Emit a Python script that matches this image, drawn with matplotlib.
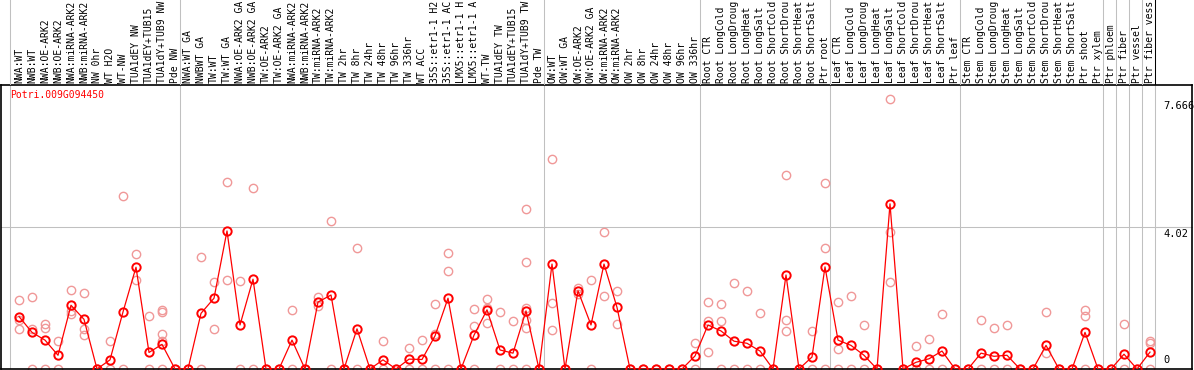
import numpy as np
import matplotlib
matplotlib.use('Agg')
import matplotlib.pyplot as plt
import matplotlib.transforms as mtransforms

gene = 'Potri.009G094450'

labels = ['NWA:WT', 'NWB:WT', 'NWA:OE-ARK2', 'NWB:OE-ARK2', 'NWA:miRNA-ARK2', 'NWB:miRNA-ARK2',
          'NW 0hr', 'WT H2O', 'WT-NW', 'TUA1dEY NW', 'TUA1dEY+TUB15', 'TUA1dY+TUB9 NW', 'Pde NW',
          'NWA:WT GA', 'NWBWT GA', 'TW:WT', 'TW:WT GA', 'NWA:OE-ARK2 GA', 'NWB:OE-ARK2 GA',
          'TW:OE-ARK2', 'TW:OE-ARK2 GA', 'NWA:miRNA-ARK2', 'NWB:miRNA-ARK2', 'TW:miRNA-ARK2',
          'TW:miRNA-ARK2', 'TW 2hr', 'TW 8hr', 'TW 24hr', 'TW 48hr', 'TW 96hr', 'TW 336hr', 'WT ACC',
          '35S::etr1-1 H2', '35S::etr1-1 AC', 'LMX5::etr1-1 H', 'LMX5::etr1-1 A', 'WT-TW', 'TUA1dEY TW',
          'TUA1dEY+TUB15', 'TUA1dY+TUB9 TW', 'Pde TW',
          'OW:WT', 'OW:WT GA', 'OW:OE-ARK2', 'OW:OE-ARK2 GA', 'OW:miRNA-ARK2', 'OW:miRNA-ARK2',
          'OW 2hr', 'OW 8hr', 'OW 24hr', 'OW 48hr', 'OW 96hr', 'OW 336hr',
          'Root CTR', 'Root LongCold', 'Root LongDroug', 'Root LongHeat', 'Root LongSalt',
          'Root ShortCold', 'Root ShortDrou', 'Root ShortHeat', 'Root ShortSalt', 'Ptr root',
          'Leaf CTR', 'Leaf LongCold', 'Leaf LongDroug', 'Leaf LongHeat', 'Leaf LongSalt',
          'Leaf ShortCold', 'Leaf ShortDrou', 'Leaf ShortHeat', 'Leaf ShortSalt', 'Ptr leaf',
          'Stem CTR', 'Stem LongCold', 'Stem LongDroug', 'Stem LongHeat', 'Stem LongSalt',
          'Stem ShortCold', 'Stem ShortDrou', 'Stem ShortHeat', 'Stem ShortSalt', 'Ptr shoot',
          'Ptr xylem', 'Ptr phloem', 'Ptr fiber', 'Ptr vessel', 'Ptr fiber vess']

group_sizes = [13, 28, 12, 10, 10, 11, 1, 1, 1, 1]

means = [1.49, 1.04, 0.82, 0.39, 1.81, 1.41, 0, 0.26, 1.62, 2.89, 0.47, 0.70, 0,
         0, 1.58, 2.01, 3.92, 1.25, 2.55, 0, 0, 0.82, 0, 1.90, 2.10, 0, 1.14, 0, 0.26, 0,
         0.28, 0.27, 0.94, 2.01, 0, 0.96, 1.68, 0.54, 0.45, 1.65, 0,
         2.98, 0, 2.22, 1.25, 2.98, 1.75, 0, 0, 0, 0, 0, 0.37,
         1.25, 1.08, 0.79, 0.73, 0.51, 0, 2.67, 0, 0.34, 2.90,
         0.82, 0.67, 0.39, 0, 4.69, 0, 0.19, 0.29, 0.51, 0,
         0, 0.45, 0.36, 0.39, 0, 0, 0.67, 0, 0, 1.04, 0,
         0, 0.42, 0, 0.48]

reps = [[1.96, 1.39, 1.13], [2.04, 1.13, 0], [1.28, 1.15, 0], [0.79, 0], [2.24, 1.66, 1.56],
        [2.16, 1.13, 0.96], [0, 0], [0.80, 0], [4.91, 0], [3.27, 2.52], [1.50, 0],
        [1.68, 1.62, 0.99, 0.80, 0], [0],
        [0], [3.17, 0], [2.46, 1.13], [5.30, 2.52], [2.50, 0], [5.13, 0], [0], [0], [1.68, 0], [0],
        [2.04, 1.79], [4.20, 0], [0], [3.43, 0], [0], [0.80, 0], [0], [0.60, 0], [0.82, 0],
        [1.85, 0.98, 0], [3.29, 2.77, 0], [0], [1.69, 1.21, 0], [1.98, 1.74, 1.31], [1.61, 0],
        [1.36, 0], [4.55, 3.03, 1.72, 1.39, 1.15, 0], [0],
        [5.96, 1.87, 1.11], [0], [2.30, 2.13], [2.52, 0], [3.88, 2.07], [2.22, 1.28],
        [0], [0], [0], [0], [0], [0.73, 0],
        [1.89, 1.37, 0.48], [1.85, 1.35, 0], [2.44, 0], [2.22, 0], [1.59, 0], [0],
        [5.50, 1.39, 1.08], [0], [1.08, 0], [5.27, 3.44, 0],
        [1.89, 0.57, 0], [2.06, 0], [1.24, 0], [0], [7.666, 3.90, 2.46], [0], [0.64, 0],
        [0.84, 0], [1.56, 0], [0],
        [0], [1.39, 0], [1.16, 0], [1.24, 0], [0], [0], [1.62, 0.45], [0], [0],
        [1.68, 1.51, 0], [0],
        [0], [1.28, 0], [0], [0.79, 0.73, 0]]

ymax_label = 7.666
grid_value = 4.02

plt.rcParams['font.family'] = 'DejaVu Sans Mono'

W, H = 1194, 370
fig = plt.figure(figsize=(W / 100, H / 100), dpi=100)
fig.patch.set_facecolor('white')

# pixel layout
x0, x1 = 1, 1192
ytop, ybot = 85, 369
col0, step = 19, 13
xlim = ((x0 - col0) / step, (x1 - col0) / step)

ax = fig.add_axes([x0 / W, (H - ybot) / H, (x1 - x0) / W, (ybot - ytop) / H])
hd = fig.add_axes([x0 / W, (H - ytop) / H, (x1 - x0) / W, ytop / H])

ymax = ymax_label * (ybot - ytop) / (ybot - 99)
ax.set_xlim(*xlim)
ax.set_ylim(0, ymax)
ax.set_xticks([])
ax.set_yticks([])
for s in ax.spines.values():
    s.set_color('black')
    s.set_linewidth(1.2)

hd.set_xlim(*xlim)
hd.set_ylim(0, ytop)
hd.axis('off')

gray = '#c0c0c0'
lw = 0.75

# group separators
seps = [-0.67]
n = 0
for g in group_sizes:
    n += g
    seps.append(n - 1 + 0.41)
for i, sx in enumerate(seps):
    ax.axvline(sx, color=gray, lw=lw, zorder=1)
    hd.axvline(sx, color='black' if i == len(seps) - 1 else gray, lw=lw)

ax.axhline(grid_value, color=gray, lw=lw, zorder=1)
ax.plot([xlim[1] - 2.8, xlim[1]], [grid_value, grid_value], color=gray, lw=lw, clip_on=False)

xs = np.arange(len(labels))

# replicates
for i in range(len(reps)):
    ax.plot([xs[i]] * len(reps[i]), reps[i], 'o', ms=6, mfc='none', mec='#f09898', mew=1.0, zorder=2)

# means
ax.plot(xs, means, '-', color='red', lw=0.9, zorder=3)
ax.plot(xs, means, 'o', ms=6, mfc='none', mec='red', mew=1.4, zorder=4)

# header labels
for i, lab in enumerate(labels):
    hd.text(xs[i], 2, lab, rotation=90, ha='center', va='bottom', fontsize=7, color='black')

ax.text(9 / (x1 - x0), 1 - 5 / (ybot - ytop), gene, transform=ax.transAxes, color='red',
        fontsize=7, ha='left', va='top')

lx = (1163 - col0) / step
ax.text(lx, ymax_label - 0.05, '7.666', fontsize=7.5, ha='left', va='top')
ax.text(lx, grid_value - 0.05, '4.02', fontsize=7.5, ha='left', va='top')
ax.text(lx, 0.1, '0', fontsize=7.5, ha='left', va='bottom')

fig.savefig('out.png', dpi=100)
